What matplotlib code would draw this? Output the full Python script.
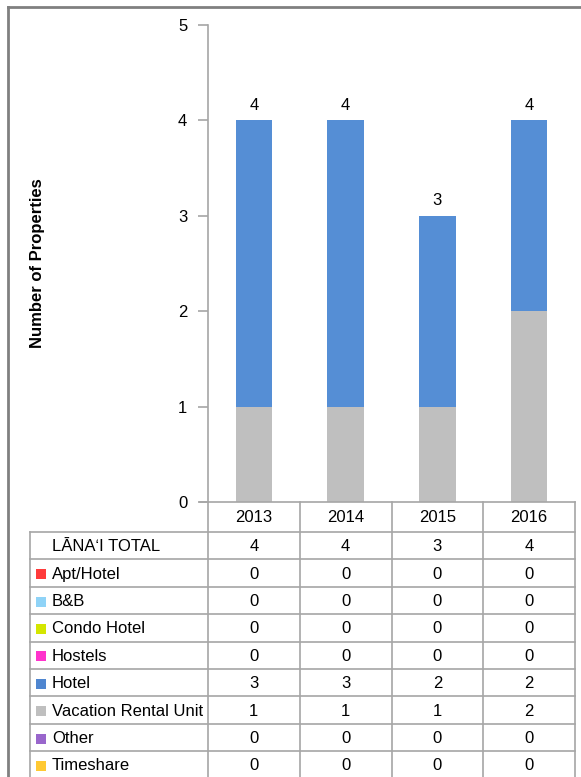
import matplotlib
matplotlib.use('Agg')
import matplotlib.pyplot as plt
from matplotlib.lines import Line2D
from matplotlib.patches import Rectangle

plt.rcParams['font.family'] = ['Liberation Sans Narrow', 'Liberation Sans', 'DejaVu Sans']

# data
years = ['2013', '2014', '2015', '2016']
total = [4, 4, 3, 4]
hotel = [3, 3, 2, 2]
vacation_rental = [1, 1, 1, 2]
row_labels = ['Apt/Hotel', 'B&B', 'Condo Hotel', 'Hostels', 'Hotel',
              'Vacation Rental Unit', 'Other', 'Timeshare']
row_values = [
    [0, 0, 0, 0],
    [0, 0, 0, 0],
    [0, 0, 0, 0],
    [0, 0, 0, 0],
    hotel,
    vacation_rental,
    [0, 0, 0, 0],
    [0, 0, 0, 0],
]
row_colors = ['#FF3B3B', '#8FD3F7', '#D4E600', '#FF33CC', '#4F86D0',
              '#BFBFBF', '#9966CC', '#FFC933']

W, H = 581, 777
fig = plt.figure(figsize=(W / 100, H / 100), dpi=100)

# bar chart area
ax_left, ax_right, ax_top, ax_bottom = 208, 575, 25, 502
ax = fig.add_axes([ax_left / W, 1 - ax_bottom / H,
                   (ax_right - ax_left) / W, (ax_bottom - ax_top) / H])
x = range(len(years))
ax.bar(x, vacation_rental, width=0.4, color='#BFBFBF')
ax.bar(x, hotel, width=0.4, bottom=vacation_rental, color='#558ED5')
for xi, t in zip(x, total):
    ax.text(xi, t + 0.08, str(t), ha='center', va='bottom', fontsize=12)

ax.set_xlim(-0.5, 3.5)
ax.set_ylim(0, 5)
ax.set_yticks(range(6))
ax.set_xticks([])
for s in ['top', 'right', 'bottom']:
    ax.spines[s].set_visible(False)
ax.spines['left'].set_color('#A6A6A6')
ax.spines['left'].set_linewidth(1.2)
ax.tick_params(axis='y', length=7, color='#A6A6A6', width=1.2,
               labelsize=12, pad=8)
ax.patch.set_alpha(0)

fig.text(38 / W, 1 - 263 / H, 'Number of Properties', rotation=90,
         ha='center', va='center', fontsize=12, fontweight='bold')

# data table drawn in pixel space
tb = fig.add_axes([0, 0, 1, 1])
tb.set_xlim(0, W)
tb.set_ylim(H, 0)
tb.axis('off')
tb.patch.set_alpha(0)

line_c = '#A6A6A6'
col_w = (ax_right - ax_left) / len(years)
col_edges = [ax_left + i * col_w for i in range(len(years) + 1)]
table_left = 30
header_bottom = 532
row_h = 27.4
n_rows = 1 + len(row_labels)

# header row
tb.add_line(Line2D([200, ax_right], [ax_bottom, ax_bottom], color=line_c, lw=1.2))
for j, yr in enumerate(years):
    tb.text(col_edges[j] + col_w / 2, (ax_bottom + header_bottom) / 2 + 1, yr,
            ha='center', va='center', fontsize=12)

# horizontal row lines
for k in range(n_rows + 1):
    yk = header_bottom + k * row_h
    tb.add_line(Line2D([table_left, ax_right], [yk, yk], color=line_c, lw=1.2))
bottom = header_bottom + n_rows * row_h
for xe in col_edges:
    tb.add_line(Line2D([xe, xe], [ax_bottom, bottom], color=line_c, lw=1.2))
tb.add_line(Line2D([table_left, table_left], [header_bottom, bottom], color=line_c, lw=1.2))

labels = ['LĀNAʻI TOTAL'] + row_labels
values = [total] + row_values
colors = [None] + row_colors
for i, (lab, vals, c) in enumerate(zip(labels, values, colors)):
    yc = header_bottom + (i + 0.5) * row_h + 1
    if c is not None:
        tb.add_patch(Rectangle((36, yc - 5), 10, 10, color=c, lw=0))
    tb.text(52, yc, lab, ha='left', va='center', fontsize=12)
    for j, v in enumerate(vals):
        tb.text(col_edges[j] + col_w / 2, yc, str(v), ha='center', va='center',
                fontsize=12)

# outer frame
tb.add_line(Line2D([8, W], [7, 7], color='#808080', lw=2))
tb.add_line(Line2D([8, 8], [7, H], color='#808080', lw=2))

fig.savefig('out.png', dpi=100)
